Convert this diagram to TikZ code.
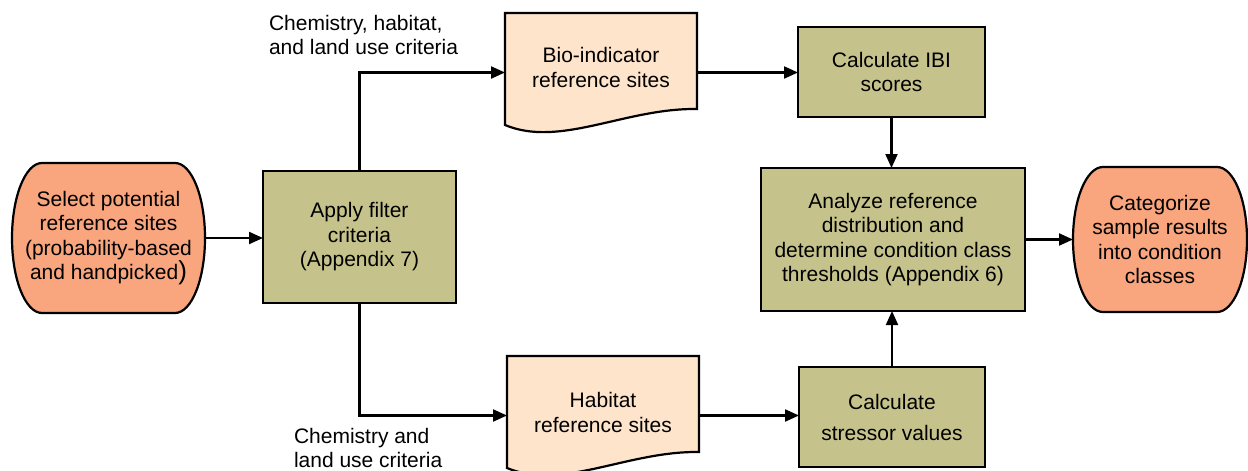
\documentclass[tikz,border=0pt]{standalone}
\usepackage{fontspec}
\setmainfont{Liberation Sans}
\usetikzlibrary{arrows.meta,calc,backgrounds}
\definecolor{termfill}{HTML}{F9A57E}
\definecolor{docfill}{HTML}{FDE4CB}
\definecolor{procfill}{HTML}{C5C38B}
\begin{document}
\begin{tikzpicture}[x=1pt,y=-1pt,
  every node/.style={font=\fontsize{21}{24.5}\selectfont, align=center, inner sep=0pt, outer sep=0pt},
  procbox/.style={draw=black, fill=procfill, line width=2.2pt},
  termshape/.style={draw=black, fill=termfill, line width=2.2pt},
  docshape/.style={draw=black, fill=docfill, line width=2.2pt},
  conn/.style={line width=2.1pt, -{Triangle[length=14pt,width=12pt]}},
  lbl/.style={align=left, anchor=west}]
\useasboundingbox (0,0) rectangle (1248,471);

% process boxes
\node[procbox, minimum width=193, minimum height=132] (filt) at (359.5,237) {Apply filter\\criteria\\(Appendix 7)};
\node[procbox, minimum width=187, minimum height=90] (ibi) at (891.5,72) {Calculate IBI\\scores};
\node[procbox, minimum width=264, minimum height=143] (ana) at (893,239.5) {Analyze reference\\distribution and\\determine condition class\\thresholds (Appendix 6)};
\node[procbox, minimum width=186, minimum height=100] (str) at (892,417) {Calculate\\[6.5pt]stressor values};

% terminators
\node[minimum width=193, minimum height=150] (sel) at (108.5,238) {Select potential\\reference sites\\(probability-based\\and handpicked{\fontsize{26}{24.5}\selectfont)}};
\node[minimum width=174, minimum height=145] (cat) at (1160,239.5) {Categorize\\sample results\\into condition\\classes};

% documents
\node[minimum width=192, minimum height=119] (bio) at (601,72.5) {};
\node[minimum width=192, minimum height=119] (hab) at (603,415.5) {};

\begin{scope}[on background layer]
  \draw[termshape] ($(sel.north west)+(30,0)$) -- ($(sel.north east)+(-30,0)$)
     arc[start angle=90, end angle=-90, x radius=30pt, y radius=75pt]
     -- ($(sel.south west)+(30,0)$)
     arc[start angle=270, end angle=90, x radius=30pt, y radius=75pt] -- cycle;
  \draw[termshape] ($(cat.north west)+(30,0)$) -- ($(cat.north east)+(-30,0)$)
     arc[start angle=90, end angle=-90, x radius=30pt, y radius=72.5pt]
     -- ($(cat.south west)+(30,0)$)
     arc[start angle=270, end angle=90, x radius=30pt, y radius=72.5pt] -- cycle;
  \draw[docshape] (bio.north west) -- (bio.north east) -- ($(bio.north east)+(0,96)$)
     .. controls ($(bio.north west)+(120,95)$) and ($(bio.north west)+(55,135)$) .. ($(bio.north west)+(0,112)$) -- cycle;
  \draw[docshape] (hab.north west) -- (hab.north east) -- ($(hab.north east)+(0,96)$)
     .. controls ($(hab.north west)+(120,95)$) and ($(hab.north west)+(55,135)$) .. ($(hab.north west)+(0,112)$) -- cycle;
\end{scope}

\node (biotxt) at ([yshift=5pt]bio.center) {Bio-indicator\\reference sites};
\node (habtxt) at ([yshift=3pt]hab.center) {Habitat\\reference sites};

% labels
\node[lbl] (lab1) at (269,35) {Chemistry, habitat,\\and land use criteria};
\node[lbl] (lab2) at (294,448) {Chemistry and\\land use criteria};

% connectors
\draw[conn] (sel.east) -- (sel.east -| filt.west);
\draw[conn] (filt.north) |- (bio.west);
\draw[conn] (filt.south) |- (hab.west);
\draw[conn] (bio.east) -- (bio.east -| ibi.west);
\draw[conn] (hab.east) -- (hab.east -| str.west);
\draw[conn] (ibi.south) -- (ibi.south |- ana.north);
\draw[conn] (str.north) -- (str.north |- ana.south);
\draw[conn] (ana.east) -- (ana.east -| cat.west);
\end{tikzpicture}
\end{document}
